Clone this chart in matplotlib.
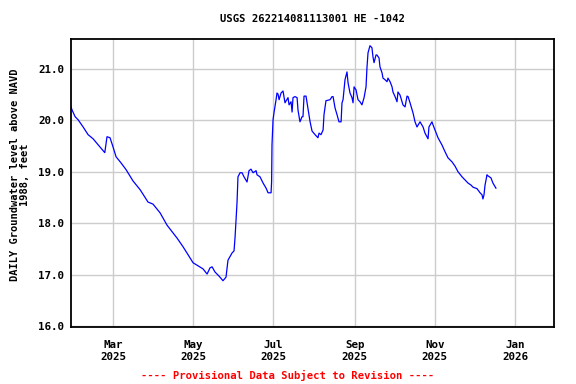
import matplotlib
matplotlib.use("Agg")
import matplotlib.pyplot as plt
import matplotlib.dates as mdates
from matplotlib.ticker import FixedLocator, FormatStrFormatter
import numpy as np
from datetime import datetime

# days since 2025-01-01 and groundwater level (ft above NAVD 1988)
days = [27.0, 27.8, 30.1, 32.4, 36.2, 40.0, 43.8, 49.1, 52.7, 54.4, 56.7, 59.0,
        61.3, 65.1, 68.9, 74.2, 79.6, 85.6, 89.4, 94.8, 100.1, 107.7, 112.3,
        119.9, 123.7, 127.5, 130.6, 132.8, 134.4, 136.6, 139.7, 142.7, 145.0,
        146.5, 149.6, 151.1, 151.9, 153.4, 154.1, 155.7, 157.2, 158.7, 161.0,
        162.5, 164.0, 165.6, 167.9, 168.6, 170.9, 173.2, 175.5, 177.0, 179.3,
        179.7, 180.0, 180.8, 181.6, 183.1, 183.8, 184.6, 185.4, 186.9, 188.4,
        189.9, 192.2, 193.0, 194.5, 195.3, 196.0, 197.5, 199.1, 199.8, 201.3,
        202.9, 203.6, 204.4, 205.9, 206.7, 208.2, 209.0, 210.5, 212.8, 215.0,
        215.8, 217.3, 218.9, 219.6, 221.1, 224.2, 225.7, 226.5, 228.0, 229.5,
        231.0, 232.6, 233.3, 234.1, 235.6, 237.1, 237.9, 239.4, 240.9, 241.7,
        242.5, 244.0, 245.5, 247.0, 248.5, 250.1, 251.6, 252.3, 253.1, 254.6,
        256.1, 256.9, 257.7, 259.2, 259.9, 261.5, 262.2, 263.8, 264.5, 266.0,
        267.6, 268.3, 269.9, 271.4, 272.1, 273.7, 275.2, 275.9, 277.5, 279.7,
        281.3, 282.8, 283.6, 285.1, 287.4, 288.9, 290.4, 292.7, 295.0, 296.5,
        298.0, 298.8, 299.5, 301.8, 302.6, 304.1, 306.4, 309.4, 311.7, 314.0,
        317.1, 319.3, 321.6, 324.7, 327.0, 329.2, 331.5, 333.0, 336.1, 338.4,
        339.9, 340.6, 341.4, 342.2, 343.7, 344.4, 346.7, 348.2, 350.5]
level = [20.26, 20.20, 20.07, 20.01, 19.87, 19.72, 19.64, 19.48, 19.37, 19.68,
         19.66, 19.48, 19.29, 19.17, 19.04, 18.82, 18.65, 18.41, 18.37, 18.20,
         17.96, 17.71, 17.54, 17.23, 17.17, 17.11, 17.01, 17.13, 17.15, 17.05,
         16.97, 16.88, 16.95, 17.28, 17.42, 17.46, 17.73, 18.41, 18.90, 18.98,
         18.98, 18.90, 18.80, 19.02, 19.05, 18.98, 19.02, 18.94, 18.90, 18.78,
         18.68, 18.59, 18.59, 18.80, 19.52, 20.01, 20.16, 20.40, 20.53, 20.51,
         20.40, 20.53, 20.57, 20.34, 20.44, 20.30, 20.36, 20.16, 20.44, 20.46,
         20.44, 20.20, 19.97, 20.07, 20.07, 20.47, 20.47, 20.34, 20.11, 19.97,
         19.79, 19.72, 19.66, 19.75, 19.72, 19.81, 20.11, 20.38, 20.40, 20.46,
         20.46, 20.24, 20.11, 19.97, 19.97, 20.34, 20.40, 20.79, 20.94, 20.73,
         20.53, 20.44, 20.34, 20.65, 20.59, 20.40, 20.36, 20.30, 20.44, 20.65,
         21.02, 21.31, 21.45, 21.41, 21.23, 21.12, 21.27, 21.27, 21.21, 21.04,
         20.92, 20.82, 20.79, 20.75, 20.82, 20.75, 20.65, 20.55, 20.46, 20.36,
         20.55, 20.49, 20.30, 20.26, 20.47, 20.46, 20.34, 20.14, 19.97, 19.87,
         19.97, 19.87, 19.75, 19.68, 19.64, 19.87, 19.97, 19.91, 19.81, 19.66,
         19.52, 19.39, 19.27, 19.19, 19.11, 19.00, 18.90, 18.84, 18.78, 18.74,
         18.70, 18.67, 18.59, 18.55, 18.47, 18.55, 18.74, 18.94, 18.92, 18.88,
         18.78, 18.68]

y_ticks = [16.0, 17.0, 18.0, 19.0, 20.0, 21.0]

base = mdates.date2num(datetime(2025, 1, 1))
x = base + np.array(days)

mono = "DejaVu Sans Mono"
fig = plt.figure(figsize=(5.76, 3.84), dpi=100)
ax = fig.add_axes([0.1233, 0.1484, 0.8385, 0.75])

ax.plot(x, level, color="blue", lw=0.9)

ax.set_xlim(base + 27.0, base + 394.7)
ax.set_ylim(15.98, 21.58)

ax.xaxis.set_major_locator(mdates.MonthLocator(bymonth=[1, 3, 5, 7, 9, 11]))
ax.xaxis.set_major_formatter(mdates.DateFormatter("%b\n%Y"))
ax.yaxis.set_major_locator(FixedLocator(y_ticks))
ax.yaxis.set_major_formatter(FormatStrFormatter("%.1f"))

ax.grid(True, color="#cccccc", lw=1)
ax.set_axisbelow(True)
for s in ax.spines.values():
    s.set_linewidth(1.3)
ax.tick_params(axis="y", length=0, pad=5)
ax.tick_params(axis="x", length=0, pad=9)
for lab in ax.get_xticklabels() + ax.get_yticklabels():
    lab.set_fontfamily(mono)
    lab.set_fontweight("bold")
    lab.set_fontsize(7.8)
for lab in ax.get_xticklabels():
    lab.set_linespacing(1.35)

ax.set_ylabel("DAILY Groundwater level above NAVD\n1988, feet",
              fontfamily=mono, fontweight="bold", fontsize=7.5, labelpad=5,
              linespacing=1.0)
ax.yaxis.set_label_coords(-0.085, 0.53)
ax.set_title("USGS 262214081113001 HE -1042", fontfamily=mono,
             fontweight="bold", fontsize=7.6, pad=12)
fig.text(0.5, 0.012, "---- Provisional Data Subject to Revision ----",
         color="red", ha="center", fontfamily=mono, fontweight="bold",
         fontsize=7.6)

fig.savefig("out.png", dpi=100)
